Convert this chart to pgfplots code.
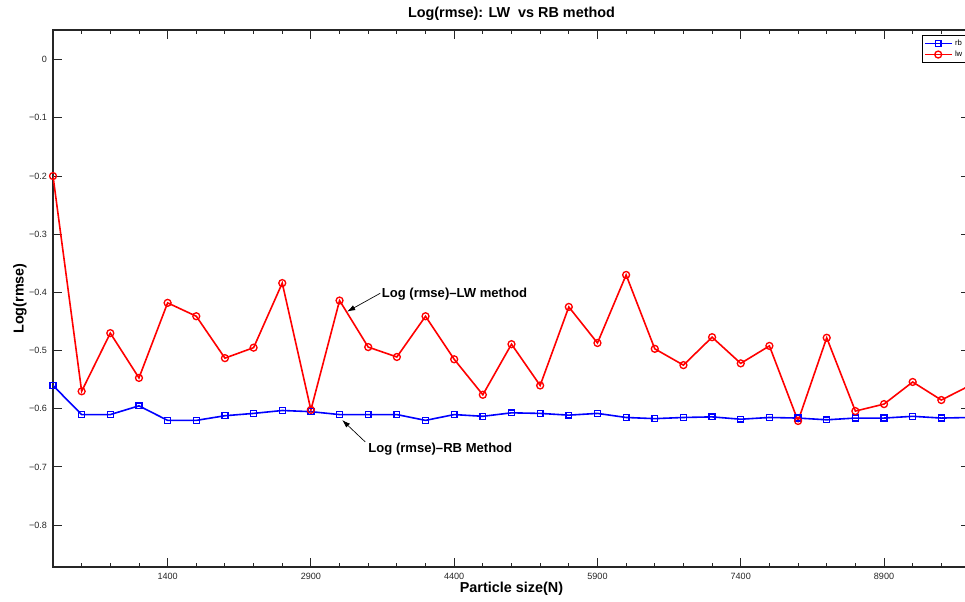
\documentclass[border=0pt]{standalone}
\usepackage{fontspec}
\setmainfont{Liberation Sans}
\usepackage{pgfplots}
\usetikzlibrary{arrows.meta}
\pgfplotsset{compat=1.18}
\begin{document}
\begin{tikzpicture}
\begin{axis}[
  scale only axis,
  width=687.75pt, height=402.75pt,
  xmin=200, xmax=9800, ymin=-0.872, ymax=0.051,
  axis line style={line width=0.9pt, black!85},
  tick style={black!85, line width=0.7pt},
  tick align=inside,
  major tick length=6.5pt,
  minor tick length=3pt,
  xtick={1400,2900,4400,5900,7400,8900},
  xticklabels={1400,2900,4400,5900,7400,8900},
  minor xtick={500,800,1100,1700,2000,2300,2600,3200,3500,3800,4100,4700,5000,5300,5600,6200,6500,6800,7100,7700,8000,8300,8600,9200,9500},
  ytick={-0.8,-0.7,-0.6,-0.5,-0.4,-0.3,-0.2,-0.1,0},
  yticklabels={−0.8,−0.7,−0.6,−0.5,−0.4,−0.3,−0.2,−0.1,0},
  ticklabel style={font=\fontsize{6.8}{8}\selectfont, text=black!85},
  /pgf/number format/assume math mode=true,
  xticklabel style={yshift=-1pt},
  yticklabel style={xshift=-1pt},
  title={\bfseries Log(rmse): LW\ \ vs RB method},
  title style={at={(axis description cs:0.5,1.015)}, anchor=center, font=\fontsize{10.8}{12}\selectfont},
  xlabel={\bfseries Particle size(N)},
  xlabel style={at={(axis description cs:0.5,-0.041)}, anchor=center, font=\fontsize{10.8}{12}\selectfont},
  ylabel={\bfseries Log(rmse)},
  ylabel style={at={(axis description cs:-0.036,0.5)}, anchor=center, font=\fontsize{10.8}{12}\selectfont},
  legend style={at={(axis cs:9770,0.0424)}, anchor=north east, font=\fontsize{5.8}{6}\selectfont, inner sep=1.2pt, row sep=-1.5pt, draw=black, line width=0.8pt, cells={anchor=west}},
  legend image code/.code={\draw[mark repeat=2,mark phase=2] plot coordinates {(0pt,0pt) (10pt,0pt) (20pt,0pt)};},
]
\addplot[blue, line width=1.2pt, mark=square, mark size=2.2pt, mark options={line width=1pt}] coordinates {
(200,-0.560) (500,-0.610) (800,-0.610) (1100,-0.595) (1400,-0.620) (1700,-0.620)
(2000,-0.612) (2300,-0.608) (2600,-0.603) (2900,-0.605) (3200,-0.610) (3500,-0.610)
(3800,-0.610) (4100,-0.620) (4400,-0.610) (4700,-0.613) (5000,-0.607) (5300,-0.608)
(5600,-0.611) (5900,-0.608) (6200,-0.615) (6500,-0.617) (6800,-0.615) (7100,-0.614)
(7400,-0.618) (7700,-0.615) (8000,-0.616) (8300,-0.619) (8600,-0.616) (8900,-0.616)
(9200,-0.613) (9500,-0.616) (9800,-0.615)
};
\addlegendentry{rb}
\addplot[red, line width=1.2pt, mark=o, mark size=2.6pt, mark options={line width=1pt}] coordinates {
(200,-0.200) (500,-0.570) (800,-0.470) (1100,-0.547) (1400,-0.418) (1700,-0.441)
(2000,-0.513) (2300,-0.495) (2600,-0.384) (2900,-0.602) (3200,-0.414) (3500,-0.494)
(3800,-0.511) (4100,-0.441) (4400,-0.515) (4700,-0.576) (5000,-0.489) (5300,-0.560)
(5600,-0.425) (5900,-0.487) (6200,-0.370) (6500,-0.497) (6800,-0.525) (7100,-0.477)
(7400,-0.522) (7700,-0.492) (8000,-0.621) (8300,-0.478) (8600,-0.604) (8900,-0.592)
(9200,-0.554) (9500,-0.585) (9800,-0.560)
};
\addlegendentry{lw}
\draw[-{Latex[length=6pt,width=4pt]}, line width=0.5pt] (axis cs:3626,-0.4015) -- (axis cs:3280,-0.4330);
\node[anchor=west, font=\fontsize{9.8}{11}\selectfont\bfseries, inner sep=0pt] at (axis cs:3640,-0.4035) {Log (rmse)–LW method};
\draw[-{Latex[length=6pt,width=4pt]}, line width=0.5pt] (axis cs:3469,-0.657) -- (axis cs:3228,-0.6195);
\node[anchor=west, font=\fontsize{9.8}{11}\selectfont\bfseries, inner sep=0pt] at (axis cs:3500,-0.670) {Log (rmse)–RB Method};
\end{axis}
\pgfresetboundingbox
\path[use as bounding box] (-39.75pt,-25.5pt) rectangle (684pt,425.25pt);
\end{tikzpicture}
\end{document}
